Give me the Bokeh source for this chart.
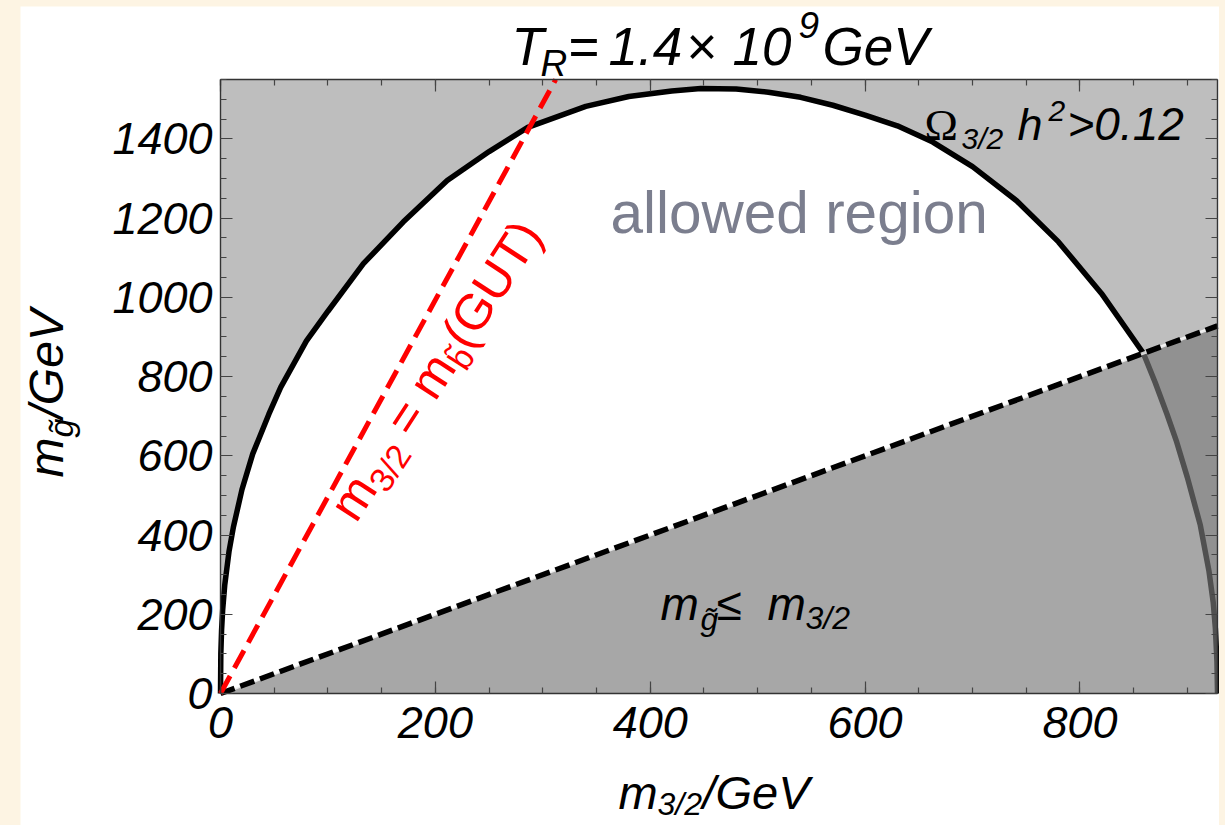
import math
from bokeh.plotting import figure
from bokeh.models import Label, LinearAxis, Range1d, FixedTicker, CustomJSTickFormatter
from bokeh.layouts import column
from bokeh.embed import file_html
from bokeh.resources import INLINE

# ---------------- data ----------------
x_ticks = [0, 200, 400, 600, 800]
y_ticks = [0, 200, 400, 600, 800, 1000, 1200, 1400]
x_minor = list(range(0, 951, 50))
y_minor = list(range(0, 1551, 50))

# Omega_{3/2} h^2 = 0.12 contour (m_3/2, m_gluino) in GeV
curve_m32 = [0, 0.3, 1, 2, 4, 8, 12, 20, 30, 45, 56, 80, 100, 133, 170, 211, 250,
             286, 340, 380, 420, 447, 480, 510, 540, 570, 600, 630, 663, 700, 741,
             780, 820, 859, 870, 881, 890, 900, 912, 920, 924, 926, 927.5, 928]
curve_mg = [0, 100, 160, 210, 275, 360, 420, 515, 605, 705, 773, 890, 965, 1085, 1190,
            1295, 1368, 1429, 1482, 1507, 1521, 1527, 1526, 1518, 1505, 1485, 1460,
            1433, 1392, 1330, 1244, 1140, 1010, 859, 785, 705, 635, 545, 425, 310,
            230, 165, 80, 0]

# plot box (axis ranges of the panel)
XMAX, YMAX = 928, 1550
box_x = [0, XMAX]
box_y = [0, YMAX]
# m_gluino = m_3/2 boundary
diag_m32 = [0, 928]
diag_mg = [0, 928]
# excluded triangle m_gluino <= m_3/2
tri_m32 = [0, 928, 928]
tri_mg = [0, 928, 0]
# m_3/2 = m_sbottom(GUT) line
red_m32 = [0, 312]
red_mg = [0, 1550]

# ---------------- geometry (page px) ----------------
OX, OY = 20, 6                       # figure origin in page
W, H = 1199, 819
FL, FR, FT, FB = 220, 1217, 79, 693  # plot box edges
SX = (FR - FL) / XMAX
SY = (FB - FT) / YMAX
x0 = -(FL - OX) / SX
x1 = (OX + W - FL) / SX
y0 = -(OY + H - FB) / SY
y1 = (FB - OY) / SY

p = figure(width=W, height=H, x_range=Range1d(x0, x1), y_range=Range1d(y0, y1),
           output_backend="svg", toolbar_location=None,
           min_border=0, min_border_left=0, min_border_right=0,
           min_border_top=0, min_border_bottom=0,
           background_fill_color="white", border_fill_color="white")
p.title.visible = False
p.outline_line_color = None
p.xgrid.visible = False
p.ygrid.visible = False


def style_axis(ax, ticks, minor, bounds, loc, labels=True):
    ax.fixed_location = loc
    ax.bounds = bounds
    ax.ticker = FixedTicker(ticks=ticks, minor_ticks=minor)
    ax.major_tick_in = 12
    ax.major_tick_out = 0
    ax.minor_tick_in = 6
    ax.minor_tick_out = 0
    ax.major_tick_line_color = "#444444"
    ax.minor_tick_line_color = "#444444"
    ax.axis_line_color = "#333333"
    ax.axis_line_width = 1.4
    ax.major_tick_line_width = 1.2
    ax.minor_tick_line_width = 1.2
    if labels:
        ax.major_label_text_font = "Liberation Sans"
        ax.major_label_text_font_style = "italic"
        ax.major_label_text_font_size = "45px"
        ax.major_label_text_color = "black"
    else:
        ax.formatter = CustomJSTickFormatter(code="return ''")
        ax.major_label_standoff = 0


# ---------------- regions and lines ----------------
p.quad(left=[box_x[0]], right=[box_x[1]], bottom=[box_y[0]], top=[box_y[1]],
       fill_color="#BEBEBE", line_color=None)
p.patch(curve_m32, curve_mg, fill_color="white", line_color=None)
p.line(curve_m32, curve_mg, line_color="black", line_width=5.5)
p.patch(tri_m32, tri_mg, fill_color="#7A7A7A", fill_alpha=0.66, line_color=None)
p.line(diag_m32, diag_mg, line_color="white", line_width=3, line_alpha=0.8)
p.line(diag_m32, diag_mg, line_color="black", line_width=5.5, line_dash="15 6")
p.line(red_m32, red_mg, line_color="red", line_width=5, line_dash="20 9")

# ---------------- axes (drawn at the plot-box edges) ----------------
style_axis(p.xaxis[0], x_ticks, x_minor, (0, XMAX), 0)
style_axis(p.yaxis[0], y_ticks, y_minor, (0, YMAX), 0)
p.xaxis[0].major_label_standoff = 13
p.yaxis[0].major_label_standoff = 8

top_ax = LinearAxis()
right_ax = LinearAxis()
style_axis(top_ax, x_ticks, x_minor, (0, XMAX), YMAX, labels=False)
style_axis(right_ax, y_ticks, y_minor, (0, YMAX), XMAX, labels=False)
p.add_layout(top_ax, "above")
p.add_layout(right_ax, "right")


# ---------------- texts ----------------
def X(px):
    return (px - FL) / SX


def Y(py):
    return (FB - py) / SY


K = 0.35  # baseline correction (fraction of font size)


def lab(px, py, text, size, style="italic", color="black", font="Liberation Sans", angle=0.0):
    qx = px - K * size * math.sin(angle)
    qy = py - K * size * math.cos(angle)
    p.add_layout(Label(x=X(qx), y=Y(qy), text=text, text_font=font,
                       text_font_size=f"{size}px", text_font_style=style,
                       text_color=color, angle=angle, text_align="left",
                       text_baseline="alphabetic"))


# title  T_R = 1.4 x 10^9 GeV
lab(511, 65, "T", 53)
lab(540, 76, "R", 37)
lab(568, 65, "=", 53, style="normal")
lab(608, 65, "1.4", 53)
lab(686, 65, "×", 53, style="normal")
lab(732, 65, "10", 53)
lab(798, 37, "9", 37)
lab(822, 65, "GeV", 53)

# x-axis label  m_{3/2}/GeV
lab(618, 808, "m", 47)
lab(657, 815, "3/2", 32)
lab(702, 808, "/GeV", 47)

# y-axis label  m_g~/GeV (rotated)
lab(63, 477, "m", 48, angle=math.pi / 2)
lab(72, 437, "g̃", 34, angle=math.pi / 2)
lab(63, 418, "/GeV", 48, angle=math.pi / 2)

# Omega_{3/2} h^2 > 0.12
lab(924, 140, "Ω", 45, style="normal", font="Liberation Serif")
lab(961, 148, "3/2", 30)
lab(1017, 140, "h", 45)
lab(1048, 121, "2", 30)
lab(1067, 140, ">0.12", 46)

# allowed region
lab(610, 232, "allowed region", 58.5, style="normal", color="#7B7E8E")

# m_g~ <= m_3/2
lab(660, 620, "m", 46)
lab(700, 630, "g̃", 32)
lab(716, 620, "≤", 46, style="normal")
lab(767, 620, "m", 46)
lab(805, 629, "3/2", 32)

# red rotated text  m_{3/2} = m_b~(GUT)
th = math.radians(57.0)
ux, uy = math.cos(th), -math.sin(th)
dx, dy = math.sin(th), math.cos(th)
sx0, sy0 = 356, 524
pieces = [("m", 50, 0.0, 0.0), ("3/2", 34, 9.0, 42.0), ("=", 50, 0.0, 102.0),
          ("m", 50, 0.0, 145.0), ("b̃", 34, 9.0, 187.0), ("(GUT)", 50, 0.0, 206.0)]
for txt, sz, down, off in pieces:
    px = sx0 + ux * off + dx * down
    py = sy0 + uy * off + dy * down
    lab(px, py, txt, sz, style="normal", color="red", angle=th)

page = column(p, styles={"background-color": "#FDF4E3",
                         "padding": f"{OY}px 6px 0 {OX}px"})
open("out.html", "w").write(file_html(page, INLINE))
